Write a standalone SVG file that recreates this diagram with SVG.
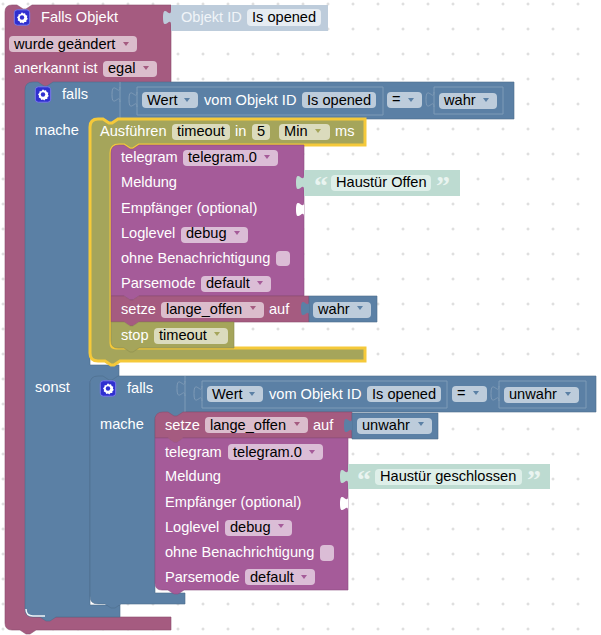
<svg xmlns="http://www.w3.org/2000/svg" xmlns:xlink="http://www.w3.org/1999/xlink" width="601" height="635" viewBox="0 0 601 635">
<style>
text{font-family:"Liberation Sans",Arial,sans-serif;font-size:14.6px;fill:#fff}
text.f{fill:#000}
.pk{fill:#a55b80;stroke:#8b4d6c;stroke-width:.6}
.bl{fill:#5b80a5;stroke:#4d6c8b;stroke-width:.6}
.pu{fill:#a55b99;stroke:#8b4d81;stroke-width:.6}
.ol{fill:#a5a55b;stroke:#8b8b4d;stroke-width:.6}
.fp{fill:#dbbdcc}.fb{fill:#bdccdb}.fu{fill:#dbbdd6}.fo{fill:#dbdbbd}.ft{fill:#deefe9}
.ap{fill:#a55b80}.ab{fill:#5b80a5}.au{fill:#a55b99}.ao{fill:#a5a55b}
.nest{fill:none;stroke:#7f9bb7;stroke-width:1}
.hl{fill:none;stroke:#fff;stroke-width:1.5}
.sel{fill:#a5a55b;stroke:#f5c93a;stroke-width:3}
.q{font-family:"Liberation Serif",serif;font-size:28px;font-weight:bold;fill:#e9f4f0}
</style>
<defs>
<pattern id="grid" width="25" height="25" patternUnits="userSpaceOnUse" x="1" y="2">
<path d="M2,0.5V3.5M0.5,2H3.5" stroke="#d4d4d4" stroke-width="1"/>
</pattern>
<path id="tab" d="M0,0c0,10 -8,-8 -8,7.5s8,-2.5 8,7.5z"/>
<path id="tabo" d="M0,0c0,10 -8,-8 -8,7.5s8,-2.5 8,7.5" class="nest"/>
<path id="arr" d="M-3,-2H3L0,2z"/>
<g id="gear">
<rect x="0.8" y="0.8" width="15.4" height="15.4" rx="3" fill="#2f2fd0" stroke="#7a7ae8" stroke-width="1"/>
<path d="M8.5,3.2l1.2,1.3 1.8,-.3 .7,1.7 1.6,.8 -.4,1.8 .9,1.5 -1.4,1.2 -.1,1.8 -1.8,.1 -1.2,1.3 -1.3,-.9 -1.7,.4 -.8,-1.6 -1.7,-.7 .2,-1.8 -1,-1.5 1.4,-1.2 .2,-1.8 1.8,0z" fill="#fff"/>
<circle cx="8.5" cy="8.5" r="2.2" fill="#2f2fd0"/>
</g>
</defs>
<rect width="601" height="635" fill="#fff"/>
<rect id="raster" width="601" height="635" fill="url(#grid)"/>

<g id="event">
<path class="pk" d="M5,12q0,-7 7,-7H17l6,4h3l6,-4H171V90H26V610q0,7 7,7H171V630H36l-6,4h-4l-6,-4H12q-7,0 -7,-7z"/>
<use xlink:href="#gear" x="13.5" y="9"/>
<text x="41" y="22">Falls Objekt</text>
<rect class="fp" x="9" y="36" width="128" height="16" rx="4"/><text class="f" x="14" y="48.500">wurde geändert</text><use xlink:href="#arr" class="ap" x="126" y="44"/>
<text x="14" y="73">anerkannt ist</text>
<rect class="fp" x="103" y="61" width="54" height="16" rx="4"/><text class="f" x="108" y="73">egal</text><use xlink:href="#arr" class="ap" x="146" y="68"/>
</g>

<g id="objekt-id">
<path fill="#bdccdb" d="M171,5H328V31H171z"/><use xlink:href="#tab" fill="#bdccdb" x="171" y="10"/>
<text x="181" y="22" style="fill:#f0f4f8">Objekt ID</text>
<rect fill="#e6ecf2" x="247" y="9" width="74" height="17" rx="4"/><text class="f" x="252" y="22">Is opened</text>
</g>

<g id="falls-aussen">
<path class="bl" d="M25,90q0,-8 8,-8H38l6,4h3l6,-4H514V119H120V124H90V365H119V381H90V605H120V617H56l-6,4h-4l-6,-4H33q-8,0 -8,-8z"/>
<path class="hl" d="M26,609q0,7 7,7H45M91,597q0,7 7,7H108" style="stroke-opacity:.9"/>
<use xlink:href="#gear" x="34.500" y="86"/>
<text x="62" y="99">falls</text>
<text x="35" y="135">mache</text>
<text x="35" y="392">sonst</text>
<path class="nest" d="M120,82V119"/><use xlink:href="#tabo" x="120" y="87"/>
<path class="nest" d="M137,87H383V115H137z"/><use xlink:href="#tabo" x="137" y="92"/>
<path class="nest" d="M434,87H503V114H434z"/><use xlink:href="#tabo" x="434" y="92"/>
<rect class="fb" x="142" y="92" width="56" height="16" rx="4"/><text class="f" x="147" y="105">Wert</text><use xlink:href="#arr" class="ab" x="187" y="100"/>
<text x="204" y="105">vom Objekt ID</text>
<rect class="fb" x="302" y="92" width="74" height="16" rx="4"/><text class="f" x="307" y="105">Is opened</text>
<rect class="fb" x="387" y="92" width="35" height="16" rx="4"/><text class="f" x="392" y="104">=</text><use xlink:href="#arr" class="ab" x="411" y="100"/>
<rect class="fb" x="439" y="93" width="58" height="16" rx="4"/><text class="f" x="444" y="105">wahr</text><use xlink:href="#arr" class="ab" x="486" y="100"/>
</g>

<g id="ausfuehren">
<path class="sel" d="M90,127q0,-8 8,-8H103l6,4h3l6,-4H365V145H139l-6,4h-3l-6,-4H119q-8,0 -8,8V343q0,5 5,5H365V361H120l-6,4h-3l-6,-4H98q-8,0 -8,-8z"/>
<text x="100" y="136">Ausführen</text>
<rect class="fo" x="172" y="124" width="58" height="16" rx="4"/><text class="f" x="177" y="136">timeout</text>
<text x="235" y="136">in</text>
<rect class="fo" x="252" y="124" width="18" height="16" rx="4"/><text class="f" x="257" y="136">5</text>
<rect class="fo" x="279" y="124" width="51" height="16" rx="4"/><text class="f" x="284" y="136">Min</text><use xlink:href="#arr" class="ao" x="318" y="131"/>
<text x="335" y="136">ms</text>
</g>

<g id="telegram-1">
<path class="pu" d="M111,153q0,-8 8,-8H124l6,4h3l6,-4H304V296H139l-6,4h-3l-6,-4H111z"/>
<text x="121" y="162">telegram</text>
<rect class="fu" x="183" y="150" width="95" height="16" rx="4"/><text class="f" x="188" y="162">telegram.0</text><use xlink:href="#arr" class="au" x="267" y="157"/>
<text x="121" y="187">Meldung</text>
<text x="121" y="213">Empfänger (optional)</text>
<use xlink:href="#tab" fill="#fff" x="304" y="202"/>
<text x="121" y="238">Loglevel</text>
<rect class="fu" x="181" y="227" width="67" height="16" rx="4"/><text class="f" x="186" y="238">debug</text><use xlink:href="#arr" class="au" x="237" y="233"/>
<text x="121" y="263">ohne Benachrichtigung</text>
<rect class="fu" x="276" y="251" width="14" height="15" rx="4"/>
<text x="121" y="288">Parsemode</text>
<rect class="fu" x="201" y="276" width="70" height="16" rx="4"/><text class="f" x="206" y="288">default</text><use xlink:href="#arr" class="au" x="260" y="283"/>
</g>

<g id="text-1">
<path fill="#bddbd1" d="M304,170H460V196H304z"/><use xlink:href="#tab" fill="#bddbd1" x="304" y="175"/>
<text class="q" x="314" y="195">“</text>
<rect class="ft" x="331" y="175" width="100" height="16" rx="4"/><text class="f" x="336" y="187">Haustür Offen</text>
<text class="q" x="436" y="195">”</text>
</g>

<g id="setze-1">
<path class="pk" d="M111,296H124l6,4h3l6,-4H309V322H139l-6,4h-3l-6,-4H111z"/>
<text x="121" y="314">setze</text>
<rect class="fp" x="161" y="302" width="103" height="16" rx="4"/><text class="f" x="166" y="314">lange_offen</text><use xlink:href="#arr" class="ap" x="253" y="308"/>
<text x="269" y="314">auf</text>
</g>
<g id="wahr-1">
<path class="bl" d="M309,296H377V322H309z"/><use xlink:href="#tab" class="ab" x="309" y="301"/>
<rect class="fb" x="313" y="302" width="58" height="16" rx="4"/><text class="f" x="318" y="314">wahr</text><use xlink:href="#arr" class="ab" x="360" y="308"/>
</g>

<g id="stop">
<path class="ol" d="M111,322H124l6,4h3l6,-4H234V348H139l-6,4h-3l-6,-4H118q-7,0 -7,-7z"/>
<text x="121" y="340">stop</text>
<rect class="fo" x="154" y="328" width="74" height="16" rx="4"/><text class="f" x="159" y="340">timeout</text><use xlink:href="#arr" class="ao" x="217" y="334"/>
</g>

<g id="falls-innen">
<path class="bl" d="M90,384q0,-8 8,-8H103l6,4h3l6,-4H596V412H185V417H155V593H185V604H121l-6,4h-4l-6,-4H98q-8,0 -8,-8z"/>
<path class="hl" d="M156,584q0,7 7,7H174" style="stroke-opacity:.9"/>
<use xlink:href="#gear" x="99.500" y="380"/>
<text x="127" y="393">falls</text>
<text x="100" y="429">mache</text>
<path class="nest" d="M185,376V412"/><use xlink:href="#tabo" x="185" y="381"/>
<path class="nest" d="M202,381H447V408H202z"/><use xlink:href="#tabo" x="202" y="386"/>
<path class="nest" d="M499,381H586V408H499z"/><use xlink:href="#tabo" x="499" y="386"/>
<rect class="fb" x="207" y="386" width="56" height="16" rx="4"/><text class="f" x="212" y="399">Wert</text><use xlink:href="#arr" class="ab" x="252" y="394"/>
<text x="269" y="399">vom Objekt ID</text>
<rect class="fb" x="367" y="386" width="74" height="16" rx="4"/><text class="f" x="372" y="399">Is opened</text>
<rect class="fb" x="452" y="386" width="35" height="16" rx="4"/><text class="f" x="457" y="398">=</text><use xlink:href="#arr" class="ab" x="476" y="393"/>
<rect class="fb" x="504" y="387" width="75" height="16" rx="4"/><text class="f" x="509" y="399">unwahr</text><use xlink:href="#arr" class="ab" x="568" y="394"/>
</g>

<g id="setze-2">
<path class="pk" d="M155,420q0,-8 8,-8H168l6,4h3l6,-4H352V438H183l-6,4h-3l-6,-4H155z"/>
<text x="165" y="430">setze</text>
<rect class="fp" x="205" y="417" width="103" height="16" rx="4"/><text class="f" x="210" y="429.500">lange_offen</text><use xlink:href="#arr" class="ap" x="297" y="424"/>
<text x="313" y="430">auf</text>
</g>
<g id="unwahr-2">
<path class="bl" d="M352,413H438V439H352z"/><use xlink:href="#tab" class="ab" x="352" y="418"/>
<rect class="fb" x="357" y="418" width="75" height="16" rx="4"/><text class="f" x="362" y="430">unwahr</text><use xlink:href="#arr" class="ab" x="421" y="424"/>
</g>

<g id="telegram-2">
<path class="pu" d="M155,438H168l6,4h3l6,-4H348V590H184l-6,4h-4l-6,-4H162q-7,0 -7,-7z"/>
<path class="pk" style="stroke:none" d="M168,438l6,4h3l6,-4z"/>
<text x="165" y="457">telegram</text>
<rect class="fu" x="228" y="444" width="95" height="16" rx="4"/><text class="f" x="233" y="456.500">telegram.0</text><use xlink:href="#arr" class="au" x="312" y="452"/>
<text x="165" y="481">Meldung</text>
<text x="165" y="507">Empfänger (optional)</text>
<use xlink:href="#tab" fill="#fff" x="348" y="496"/>
<text x="165" y="532">Loglevel</text>
<rect class="fu" x="225" y="520" width="67" height="16" rx="4"/><text class="f" x="230" y="532">debug</text><use xlink:href="#arr" class="au" x="281" y="526"/>
<text x="165" y="557">ohne Benachrichtigung</text>
<rect class="fu" x="320" y="545" width="14" height="16" rx="4"/>
<text x="165" y="582">Parsemode</text>
<rect class="fu" x="245" y="569" width="70" height="16" rx="4"/><text class="f" x="250" y="582">default</text><use xlink:href="#arr" class="au" x="304" y="577"/>
</g>

<g id="text-2">
<path fill="#bddbd1" d="M348,464H550V489H348z"/><use xlink:href="#tab" fill="#bddbd1" x="348" y="469"/>
<text class="q" x="357" y="489">“</text>
<rect class="ft" x="375" y="469" width="147" height="16" rx="4"/><text class="f" x="380" y="481">Haustür geschlossen</text>
<text class="q" x="527" y="489">”</text>
</g>
</svg>
